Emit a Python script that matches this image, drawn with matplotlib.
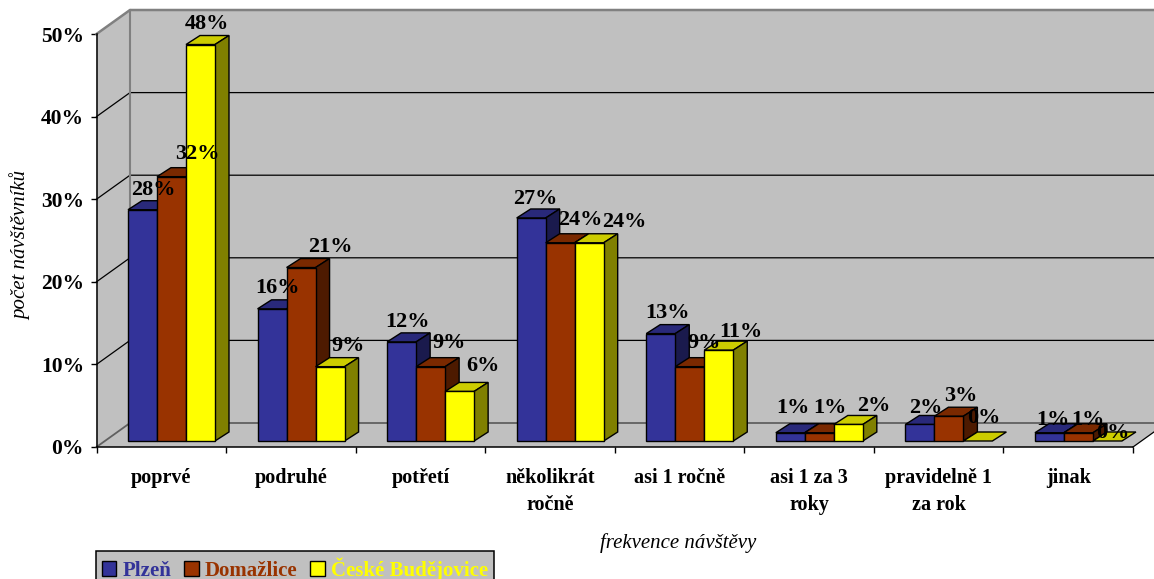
import matplotlib
matplotlib.use("Agg")
import matplotlib.pyplot as plt
from matplotlib.patches import Patch, Polygon

plt.rcParams["font.family"] = ["Liberation Serif", "DejaVu Serif"]

categories = ["poprvé", "podruhé", "potřetí", "několikrát\nročně", "asi 1 ročně",
              "asi 1 za 3\nroky", "pravidelně 1\nza rok", "jinak"]
series_names = ["Plzeň", "Domažlice", "České Budějovice"]
plzen = [28, 16, 12, 27, 13, 1, 2, 1]
domazlice = [32, 21, 9, 24, 9, 1, 3, 1]
budejovice = [48, 9, 6, 24, 11, 2, 0, 0]
y_ticks = [0, 10, 20, 30, 40, 50]

# label offsets from the top centre of each bar, in pixels
label_dx = [[10.5, 25.5, 6.5], [5.5, 29.5, 17.5], [5.5, 18.5, 23.5], [4.5, 20.5, 35.5],
            [6.5, 14.5, 22.5], [2.5, 10.5, 25.5], [5.5, 11.5, 5.5], [3.5, 9.5, 5.5]]
label_dy = [[19.7, 22.7, 20.5], [20.8, 20.5, 20.7], [20.0, 23.7, 25.4], [19.0, 22.8, 20.8],
            [20.6, 23.7, 18.0], [24.7, 24.7, 18.5], [16.5, 20.0, 23.0], [12.7, 12.7, 8.0]]

W, H = 1154, 579
LEFT, RIGHT, BASE, TOP = 96.5, 1133.0, 447.0, 34.0
PX_X = (RIGHT - LEFT) / 8
PX_Y = (BASE - TOP) / 50

# wall depth and bar geometry expressed in axis units
WALL_DX, WALL_DY = 33.5 / PX_X, 24 / PX_Y
FLOOR_X0, FLOOR_Y0 = 31.5 / PX_X, 6 / PX_Y
BAR_W = 29 / PX_X
BAR_DX, BAR_DY = 14 / PX_X, 9 / PX_Y

WALL = "#C0C0C0"
EDGE = "#808080"
front_colors = ["#333399", "#993300", "#FFFF00"]
top_colors = ["#29297A", "#7A2900", "#CCCC00"]
side_colors = ["#1A1A4D", "#4D1A00", "#808000"]

fig = plt.figure(figsize=(W / 100, H / 100), dpi=100, facecolor="white")
ax = fig.add_axes([LEFT / W, 1 - BASE / H, (RIGHT - LEFT) / W, (BASE - TOP) / H])
ax.set_xlim(0, 8)
ax.set_ylim(0, 50)
ax.patch.set_visible(False)
for name in ("top", "right"):
    ax.spines[name].set_visible(False)
for name in ("left", "bottom"):
    ax.spines[name].set_linewidth(1.1)
    ax.spines[name].set_zorder(6)


def poly(points, face, edge="black", lw=1.0, z=3):
    ax.add_patch(Polygon(points, closed=True, facecolor=face, edgecolor=edge,
                         linewidth=lw, zorder=z, clip_on=False, joinstyle="miter"))


# back wall, side wall and floor
poly([(WALL_DX, WALL_DY), (8 + WALL_DX, WALL_DY), (8 + WALL_DX, 50 + WALL_DY), (WALL_DX, 50 + WALL_DY)],
     WALL, "none", 0, 1)
poly([(0, 0), (WALL_DX, WALL_DY), (WALL_DX, 50 + WALL_DY), (0, 50)], WALL, "none", 0, 1)
poly([(0, 0), (8, 0), (8 + WALL_DX, WALL_DY), (WALL_DX, WALL_DY)], WALL, "none", 0, 1)

for tick in y_ticks[1:-1]:
    ax.plot([0, WALL_DX, 8 + WALL_DX], [tick, tick + WALL_DY, tick + WALL_DY],
            color="black", lw=0.9, zorder=2, clip_on=False)
ax.plot([0, WALL_DX, 8 + WALL_DX], [50, 50 + WALL_DY, 50 + WALL_DY],
        color=EDGE, lw=1.8, zorder=2, clip_on=False)
ax.plot([0, WALL_DX, 8 + WALL_DX], [0, WALL_DY, WALL_DY], color="#606060", lw=1.3, zorder=2, clip_on=False)
ax.plot([WALL_DX, WALL_DX], [WALL_DY, 50 + WALL_DY], color=EDGE, lw=1.5, zorder=2, clip_on=False)
ax.plot([8, 8 + WALL_DX], [0, WALL_DY], color="black", lw=0.9, zorder=2, clip_on=False)

# bars, drawn left to right so each one covers its neighbour's side face
for g, values in enumerate(zip(plzen, domazlice, budejovice)):
    for s, value in enumerate(values):
        x0 = g + FLOOR_X0 + s * BAR_W
        x1 = x0 + BAR_W
        y0 = FLOOR_Y0
        y1 = y0 + value
        z = 3 + 0.01 * (g * 3 + s)
        poly([(x0, y1), (x1, y1), (x1 + BAR_DX, y1 + BAR_DY), (x0 + BAR_DX, y1 + BAR_DY)], top_colors[s], z=z)
        if value > 0:
            poly([(x1, y0), (x1 + BAR_DX, y0 + BAR_DY), (x1 + BAR_DX, y1 + BAR_DY), (x1, y1)], side_colors[s], z=z)
            poly([(x0, y0), (x1, y0), (x1, y1), (x0, y1)], front_colors[s], z=z)
        ax.annotate(f"{value}%", xy=((x0 + x1) / 2, y1),
                    xytext=(label_dx[g][s], label_dy[g][s]), textcoords="offset pixels",
                    ha="center", va="center", fontsize=16, fontweight="bold",
                    color="black", zorder=8, annotation_clip=False)

# axes: value ticks, category boundaries and centred category names
ax.set_yticks(y_ticks)
ax.set_yticklabels([f"{t}%" for t in y_ticks], fontsize=15.5, fontweight="bold")
ax.tick_params(axis="y", length=4.5, width=1, pad=4.5)
ax.set_xticks(range(9), minor=True)
ax.set_xticks([i + 0.5 for i in range(8)])
ax.set_xticklabels(categories, fontsize=14.5, fontweight="bold", linespacing=1.45)
ax.tick_params(axis="x", which="major", length=0, pad=15)
ax.tick_params(axis="x", which="minor", length=4.5, width=1)

ax.set_xlabel("frekvence návštěvy", fontsize=15, fontstyle="italic", va="center")
ax.xaxis.set_label_coords((678 - LEFT) / (RIGHT - LEFT), -(543 - BASE) / (BASE - TOP))
ax.set_ylabel("počet návštěvníků", fontsize=15, fontstyle="italic", va="center")
ax.yaxis.set_label_coords((21 - LEFT) / (RIGHT - LEFT), (BASE - 245) / (BASE - TOP))

handles = [Patch(facecolor=c, edgecolor="black", linewidth=1) for c in front_colors]
legend = fig.legend(handles, series_names, loc="upper left",
                    bbox_to_anchor=(96 / W, 1 - 551 / H), borderaxespad=0, ncols=3,
                    frameon=True, fancybox=False, facecolor=WALL, edgecolor="black", framealpha=1,
                    prop={"size": 15, "weight": "bold"}, labelcolor=front_colors,
                    handlelength=0.68, handleheight=0.68, handletextpad=0.3,
                    columnspacing=0.62, borderpad=0.3)
legend.get_frame().set_linewidth(1.1)

fig.savefig("out.png", dpi=100, facecolor="white")
